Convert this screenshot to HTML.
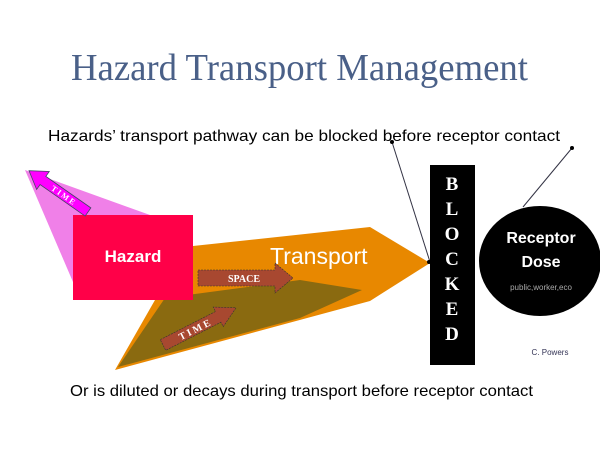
<!DOCTYPE html>
<html><head><meta charset="utf-8"><style>html,body{margin:0;padding:0;background:#fff}svg{display:block}</style></head>
<body>
<svg width="600" height="450" viewBox="0 0 600 450" xmlns="http://www.w3.org/2000/svg">
<rect width="600" height="450" fill="#fff"/>
<text x="71" y="80" font-family="Liberation Serif, serif" font-size="38" fill="#4a6088" textLength="457" lengthAdjust="spacingAndGlyphs">Hazard Transport Management</text>
<text x="48" y="141" font-family="Liberation Sans, sans-serif" font-size="16" fill="#000" textLength="512" lengthAdjust="spacingAndGlyphs">Hazards’  transport  pathway  can be blocked before  receptor contact</text>
<!-- pink fan -->
<polygon points="25,170 150,215 73,282" fill="#f080e8"/>
<!-- orange arrow -->
<polygon points="193,246 370,227 430,263 370,301 115,370 155,300 193,300" fill="#e88800"/>
<polygon points="118,367 165,298 300,280 362,290 300,318" fill="#8a6a10"/>
<!-- hazard box -->
<rect x="73" y="215" width="120" height="85" fill="#ff0048"/>
<text x="133" y="262" text-anchor="middle" font-family="Liberation Sans, sans-serif" font-size="17" font-weight="bold" fill="#fff">Hazard</text>
<text x="270" y="264" font-family="Liberation Sans, sans-serif" font-size="23" fill="#fff">Transport</text>
<!-- magenta arrow -->
<g transform="translate(88,212) rotate(-145)">
<polygon points="0,-5 55,-5 55,-11 72,0 55,11 55,5 0,5" fill="#ff00ff" stroke="#446" stroke-width="0.8"/>
<text x="30" y="3" text-anchor="middle" font-family="Liberation Serif, serif" font-size="8" font-weight="bold" fill="#fff" transform="rotate(180 30 0)">T I M E</text>
</g>
<!-- space arrow -->
<polygon points="198,270 275,270 275,263 293,278 275,293 275,286 198,286" fill="#a84830" stroke="#333" stroke-width="0.6" stroke-dasharray="2,1"/>
<text x="244" y="282" text-anchor="middle" font-family="Liberation Serif, serif" font-size="10" font-weight="bold" fill="#fff">SPACE</text>
<!-- time arrow -->
<g transform="translate(163,345) rotate(-27)">
<polygon points="0,-6 62,-6 62,-11 82,0 62,11 62,6 0,6" fill="#a84830" stroke="#333" stroke-width="0.6" stroke-dasharray="2,1"/>
<text x="35" y="4" text-anchor="middle" font-family="Liberation Serif, serif" font-size="10" font-weight="bold" fill="#fff">T I M E</text>
</g>
<!-- blocked -->
<rect x="430" y="165" width="45" height="200" fill="#000"/>
<g font-family="Liberation Serif, serif" font-size="19" font-weight="bold" fill="#fff" text-anchor="middle">
<text x="452" y="190">B</text><text x="452" y="215">L</text><text x="452" y="240">O</text><text x="452" y="265">C</text><text x="452" y="290">K</text><text x="452" y="315">E</text><text x="452" y="340">D</text>
</g>
<!-- leader lines -->
<line x1="392" y1="142" x2="430" y2="262" stroke="#334" stroke-width="1"/>
<circle cx="392" cy="142" r="2" fill="#000"/><circle cx="429" cy="262" r="2" fill="#000"/>
<line x1="572" y1="148" x2="523" y2="207" stroke="#334" stroke-width="1"/>
<circle cx="572" cy="148" r="2" fill="#000"/>
<!-- receptor -->
<ellipse cx="540" cy="261" rx="61" ry="55" fill="#000"/>
<text x="541" y="243" text-anchor="middle" font-family="Liberation Sans, sans-serif" font-size="16" font-weight="bold" fill="#fff">Receptor</text>
<text x="541" y="267" text-anchor="middle" font-family="Liberation Sans, sans-serif" font-size="16" font-weight="bold" fill="#fff">Dose</text>
<text x="541" y="290" text-anchor="middle" font-family="Liberation Sans, sans-serif" font-size="8" fill="#aaa">public,worker,eco</text>
<text x="550" y="355" text-anchor="middle" font-family="Liberation Sans, sans-serif" font-size="8" fill="#335">C. Powers</text>
<text x="70" y="396" font-family="Liberation Sans, sans-serif" font-size="16" fill="#000" textLength="463" lengthAdjust="spacingAndGlyphs">Or is diluted or decays during transport before receptor contact</text>
</svg>
</body></html>
